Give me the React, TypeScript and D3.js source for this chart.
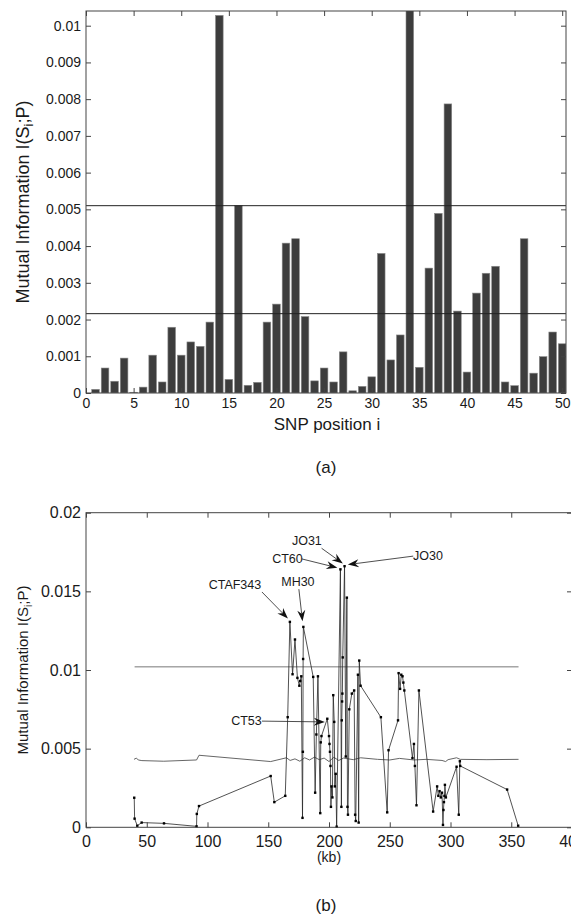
import React, { useRef, useEffect } from "react";
import * as d3 from "d3";

// panel (a): mutual information per SNP position 1..50
const snpMI = [
  0.0001, 0.00068, 0.00032, 0.00095, 0.00002, 0.00016, 0.00103, 0.0003, 0.00179, 0.00103,
  0.00139, 0.00127, 0.00193, 0.01028, 0.00037, 0.00511, 0.00021, 0.00029, 0.00193, 0.00242,
  0.00408, 0.0042, 0.00208, 0.00033, 0.00068, 0.0003, 0.00112, 0.00006, 0.00018, 0.00044,
  0.0038, 0.0009, 0.00158, 0.0115, 0.0007, 0.0034, 0.00489, 0.00787, 0.00223, 0.00057,
  0.00272, 0.00326, 0.00345, 0.0003, 0.0002, 0.0042, 0.00054, 0.00099, 0.00166, 0.00134,
];
const snpTicks = [0, 5, 10, 15, 20, 25, 30, 35, 40, 45, 50];
const miTicksA = [0, 0.001, 0.002, 0.003, 0.004, 0.005, 0.006, 0.007, 0.008, 0.009, 0.01];
const thresholdsA = [0.0051, 0.00216];

// panel (b): mutual information along the region (kb)
const kbPos = [
  39.7, 40.0, 42.2, 45.8, 64.2, 91.0, 91.2, 93.0, 152.0, 155.0,
  164.0, 166.0, 167.8, 170.0, 172.0, 174.0, 175.6, 176.3, 177.2, 178.2,
  178.5, 178.7, 178.9, 187.0, 188.6, 189.6, 190.9, 192.8, 193.2, 193.8,
  198.6, 200.0, 200.4, 200.8, 201.2, 201.6, 202.0, 202.8, 203.5, 204.3,
  204.8, 205.5, 206.3, 209.4, 210.2, 210.5, 210.8, 211.0, 211.3, 212.8,
  213.8, 214.7, 215.2, 215.6, 216.7, 218.8, 220.7, 221.5, 222.0, 223.8,
  224.4, 224.9, 226.0, 242.7, 247.9, 249.0, 256.8, 257.3, 258.5, 259.5,
  260.5, 261.2, 262.0, 268.7, 269.9, 270.7, 272.0, 274.0, 285.7, 289.0,
  290.0, 291.0, 292.0, 293.0, 293.8, 294.2, 294.6, 295.0, 295.4, 296.2,
  305.0, 306.8, 307.7, 308.0, 346.6, 355.7,
];
const kbMI = [
  0.00188, 0.00055, 0.0001, 0.0003, 0.00025, 0.00006, 0.00085, 0.00135, 0.00326, 0.0016,
  0.002, 0.007, 0.01306, 0.00973, 0.01194, 0.0095, 0.009, 0.0093, 0.0096, 0.0006,
  0.0048, 0.0107, 0.01274, 0.00956, 0.0022, 0.0059, 0.0096, 0.0009, 0.0054, 0.0058,
  0.0069, 0.0058, 0.0053, 0.0048, 0.0039, 0.0013, 0.0026, 0.0019, 0.0084, 0.0067,
  0.0026, 0.0034, 0.00004, 0.0164, 0.0013, 0.0068, 0.008, 0.0085, 0.0108, 0.0166,
  0.0045, 0.0146, 0.0013, 0.0008, 0.0075, 0.0085, 0.0087, 0.0008, 0.0004, 0.0097,
  0.0003, 0.0106, 0.009, 0.007, 0.00095, 0.0049, 0.0068, 0.0098, 0.0088, 0.0097,
  0.0096, 0.0092, 0.0087, 0.0044, 0.0053, 0.0039, 0.0014, 0.0087, 0.001, 0.0026,
  0.002, 0.0023, 0.0019, 0.0022, 0.00015, 0.0011, 0.0016, 0.002, 0.0027, 0.0019,
  0.00385, 0.0008, 0.0042, 0.0039, 0.0024, 0.0001,
];
// null level (wavy line)
const nullKb = [
  39.5, 41.5, 43, 46, 64, 91, 93, 152, 165, 168, 172, 176, 180, 184, 188, 192, 196, 200,
  204, 208, 212, 220, 226, 240, 250, 258, 270, 280, 293, 296, 298, 305, 308, 330, 356,
];
const nullMI = [
  0.00432, 0.0044, 0.00428, 0.00424, 0.0042, 0.00428, 0.00458, 0.00418, 0.00442, 0.00425,
  0.00435, 0.0042, 0.00442, 0.00428, 0.00446, 0.0043, 0.0044, 0.00418, 0.00445, 0.00425,
  0.0044, 0.0043, 0.00442, 0.00432, 0.00428, 0.00438, 0.00428, 0.00432, 0.00425, 0.00418,
  0.0043, 0.00442, 0.00432, 0.0043, 0.00432,
];
const thresholdB = 0.0102;
const thresholdSpanB = [40, 356];
const kbTicks = [0, 50, 100, 150, 200, 250, 300, 350, 400];
const miTicksB = [0, 0.005, 0.01, 0.015, 0.02];

// labelled markers: text position, arrow start and arrow tip, all in data units
const markers = [
  { label: "CTAF343", text: [122.6, 0.0154], from: [144.8, 0.01496], tip: [166.2, 0.01327] },
  { label: "MH30", text: [174.4, 0.0156], from: [175.2, 0.01514], tip: [178.2, 0.0131] },
  { label: "CT60", text: [165.8, 0.01706], from: [177.7, 0.01706], tip: [206.9, 0.0165] },
  { label: "JO31", text: [181.8, 0.0182], from: [193.9, 0.01774], tip: [211.4, 0.01677] },
  { label: "JO30", text: [281.4, 0.01725], from: [269.3, 0.01724], tip: [215.5, 0.0167] },
  { label: "CT53", text: [132.1, 0.00675], from: [144.8, 0.00675], tip: [196.6, 0.0067] },
];

const FONT = "'Liberation Sans', Arial, Helvetica, sans-serif";
const fmt = (d) => (d === 0 ? "0" : String(+d.toFixed(4)));

const App = () => {
  const ref = useRef(null);

  useEffect(() => {
    const svg = d3.select(ref.current);
    svg.selectAll("*").remove();

    // frame with inward ticks on all sides
    const drawFrame = (g, x, y, xt, yt, fs, xpad) => {
      const [x0, x1] = x.range();
      const [y0, y1] = y.range();
      g.append("g")
        .attr("transform", `translate(0,${y0})`)
        .call(d3.axisBottom(x).tickValues(xt).tickSize(-5).tickPadding(xpad).tickFormat(fmt))
        .call((a) => a.select(".domain").remove());
      g.append("g")
        .attr("transform", `translate(0,${y1})`)
        .call(d3.axisTop(x).tickValues(xt).tickSize(-5).tickFormat(() => ""))
        .call((a) => a.select(".domain").remove());
      g.append("g")
        .attr("transform", `translate(${x0},0)`)
        .call(d3.axisLeft(y).tickValues(yt).tickSize(-5).tickPadding(5).tickFormat(fmt))
        .call((a) => a.select(".domain").remove());
      g.append("g")
        .attr("transform", `translate(${x1},0)`)
        .call(d3.axisRight(y).tickValues(yt).tickSize(-5).tickFormat(() => ""))
        .call((a) => a.select(".domain").remove());
      g.selectAll(".tick line").attr("stroke", "#444");
      g.selectAll(".tick text")
        .attr("font-family", FONT)
        .attr("font-size", fs)
        .attr("fill", "#1a1a1a");
      g.append("rect")
        .attr("x", x0)
        .attr("y", y1)
        .attr("width", x1 - x0)
        .attr("height", y0 - y1)
        .attr("fill", "none")
        .attr("stroke", "#444")
        .attr("stroke-width", 1);
    };

    const yLabel = (g, cx, cy, fs) => {
      const t = g.append("text")
        .attr("transform", `translate(${cx},${cy}) rotate(-90)`)
        .attr("text-anchor", "middle")
        .attr("font-family", FONT)
        .attr("font-size", fs)
        .attr("fill", "#1a1a1a");
      t.append("tspan").text("Mutual Information I(S");
      t.append("tspan").attr("font-size", fs * 0.7).attr("dy", 4).text("i");
      t.append("tspan").attr("dy", -4).text(";P)");
    };

    // ---------- panel (a) ----------
    const xA = d3.scaleLinear().domain([0, 50.4]).range([86, 566]);
    const yA = d3.scaleLinear().domain([0, 0.0104]).range([393, 11]);
    const gA = svg.append("g");

    svg.append("defs").append("clipPath").attr("id", "clipA")
      .append("rect").attr("x", 86).attr("y", 11).attr("width", 480).attr("height", 382);

    const bw = xA(0.8) - xA(0);
    gA.append("g")
      .attr("clip-path", "url(#clipA)")
      .selectAll("rect")
      .data(snpMI)
      .join("rect")
      .attr("x", (d, i) => xA(i + 1) - bw / 2)
      .attr("y", (d) => yA(d))
      .attr("width", bw)
      .attr("height", (d) => yA(0) - yA(d))
      .attr("fill", "#3d3d3d")
      .attr("stroke", "#8a8a8a")
      .attr("stroke-width", 0.6);

    thresholdsA.forEach((v) => {
      gA.append("line")
        .attr("x1", xA.range()[0]).attr("x2", xA.range()[1])
        .attr("y1", yA(v)).attr("y2", yA(v))
        .attr("stroke", "#222").attr("stroke-width", 1);
    });

    drawFrame(gA, xA, yA, snpTicks, miTicksA, 14, 5);
    yLabel(gA, 29, 202, 18);
    gA.append("text")
      .attr("x", 327).attr("y", 430)
      .attr("text-anchor", "middle")
      .attr("font-family", FONT).attr("font-size", 17).attr("fill", "#1a1a1a")
      .text("SNP position i");
    gA.append("text")
      .attr("x", 326).attr("y", 473)
      .attr("text-anchor", "middle")
      .attr("font-family", FONT).attr("font-size", 17).attr("fill", "#1a1a1a")
      .text("(a)");

    // ---------- panel (b) ----------
    const xB = d3.scaleLinear().domain([0, 400]).range([86, 572]);
    const yB = d3.scaleLinear().domain([0, 0.02]).range([827.3, 512.7]);
    const gB = svg.append("g");

    gB.append("line")
      .attr("x1", xB(thresholdSpanB[0])).attr("x2", xB(thresholdSpanB[1]))
      .attr("y1", yB(thresholdB)).attr("y2", yB(thresholdB))
      .attr("stroke", "#777").attr("stroke-width", 1);

    const line = d3.line().x((d) => xB(d[0])).y((d) => yB(d[1]));
    gB.append("path")
      .datum(d3.zip(nullKb, nullMI))
      .attr("d", line)
      .attr("fill", "none")
      .attr("stroke", "#555")
      .attr("stroke-width", 0.9);

    const pts = d3.zip(kbPos, kbMI);
    gB.append("path")
      .datum(pts)
      .attr("d", line)
      .attr("fill", "none")
      .attr("stroke", "#262626")
      .attr("stroke-width", 0.8);
    gB.append("g")
      .selectAll("rect")
      .data(pts)
      .join("rect")
      .attr("x", (d) => xB(d[0]) - 1.2)
      .attr("y", (d) => yB(d[1]) - 1.2)
      .attr("width", 2.4)
      .attr("height", 2.4)
      .attr("fill", "#000");

    // annotations with MATLAB style arrows
    markers.forEach((m) => {
      const sx = xB(m.from[0]), sy = yB(m.from[1]);
      const tx = xB(m.tip[0]), ty = yB(m.tip[1]);
      const a = Math.atan2(ty - sy, tx - sx);
      const ux = Math.cos(a), uy = Math.sin(a);
      const nx = -uy, ny = ux;
      const L = 11, W = 4, back = 7.5;
      gB.append("line")
        .attr("x1", sx).attr("y1", sy)
        .attr("x2", tx - back * ux).attr("y2", ty - back * uy)
        .attr("stroke", "#222").attr("stroke-width", 0.8);
      const head = [
        [tx, ty],
        [tx - L * ux + W * nx, ty - L * uy + W * ny],
        [tx - back * ux, ty - back * uy],
        [tx - L * ux - W * nx, ty - L * uy - W * ny],
      ];
      gB.append("path")
        .attr("d", "M" + head.map((p) => p.join(",")).join("L") + "Z")
        .attr("fill", "#111");
      gB.append("text")
        .attr("x", xB(m.text[0])).attr("y", yB(m.text[1]))
        .attr("dy", "0.35em")
        .attr("text-anchor", "middle")
        .attr("font-family", FONT).attr("font-size", 12.5).attr("fill", "#1a1a1a")
        .text(m.label);
    });

    drawFrame(gB, xB, yB, kbTicks, miTicksB, 16, 8);
    yLabel(gB, 28, 670, 15);
    gB.append("text")
      .attr("x", 329).attr("y", 862)
      .attr("text-anchor", "middle")
      .attr("font-family", FONT).attr("font-size", 14).attr("fill", "#1a1a1a")
      .text("(kb)");
    gB.append("text")
      .attr("x", 326).attr("y", 911)
      .attr("text-anchor", "middle")
      .attr("font-family", FONT).attr("font-size", 17).attr("fill", "#1a1a1a")
      .text("(b)");
  }, []);

  return (
    <svg
      ref={ref}
      width={571}
      height={920}
      style={{ position: "absolute", left: 0, top: 0, background: "#fff" }}
    />
  );
};

export default App;
